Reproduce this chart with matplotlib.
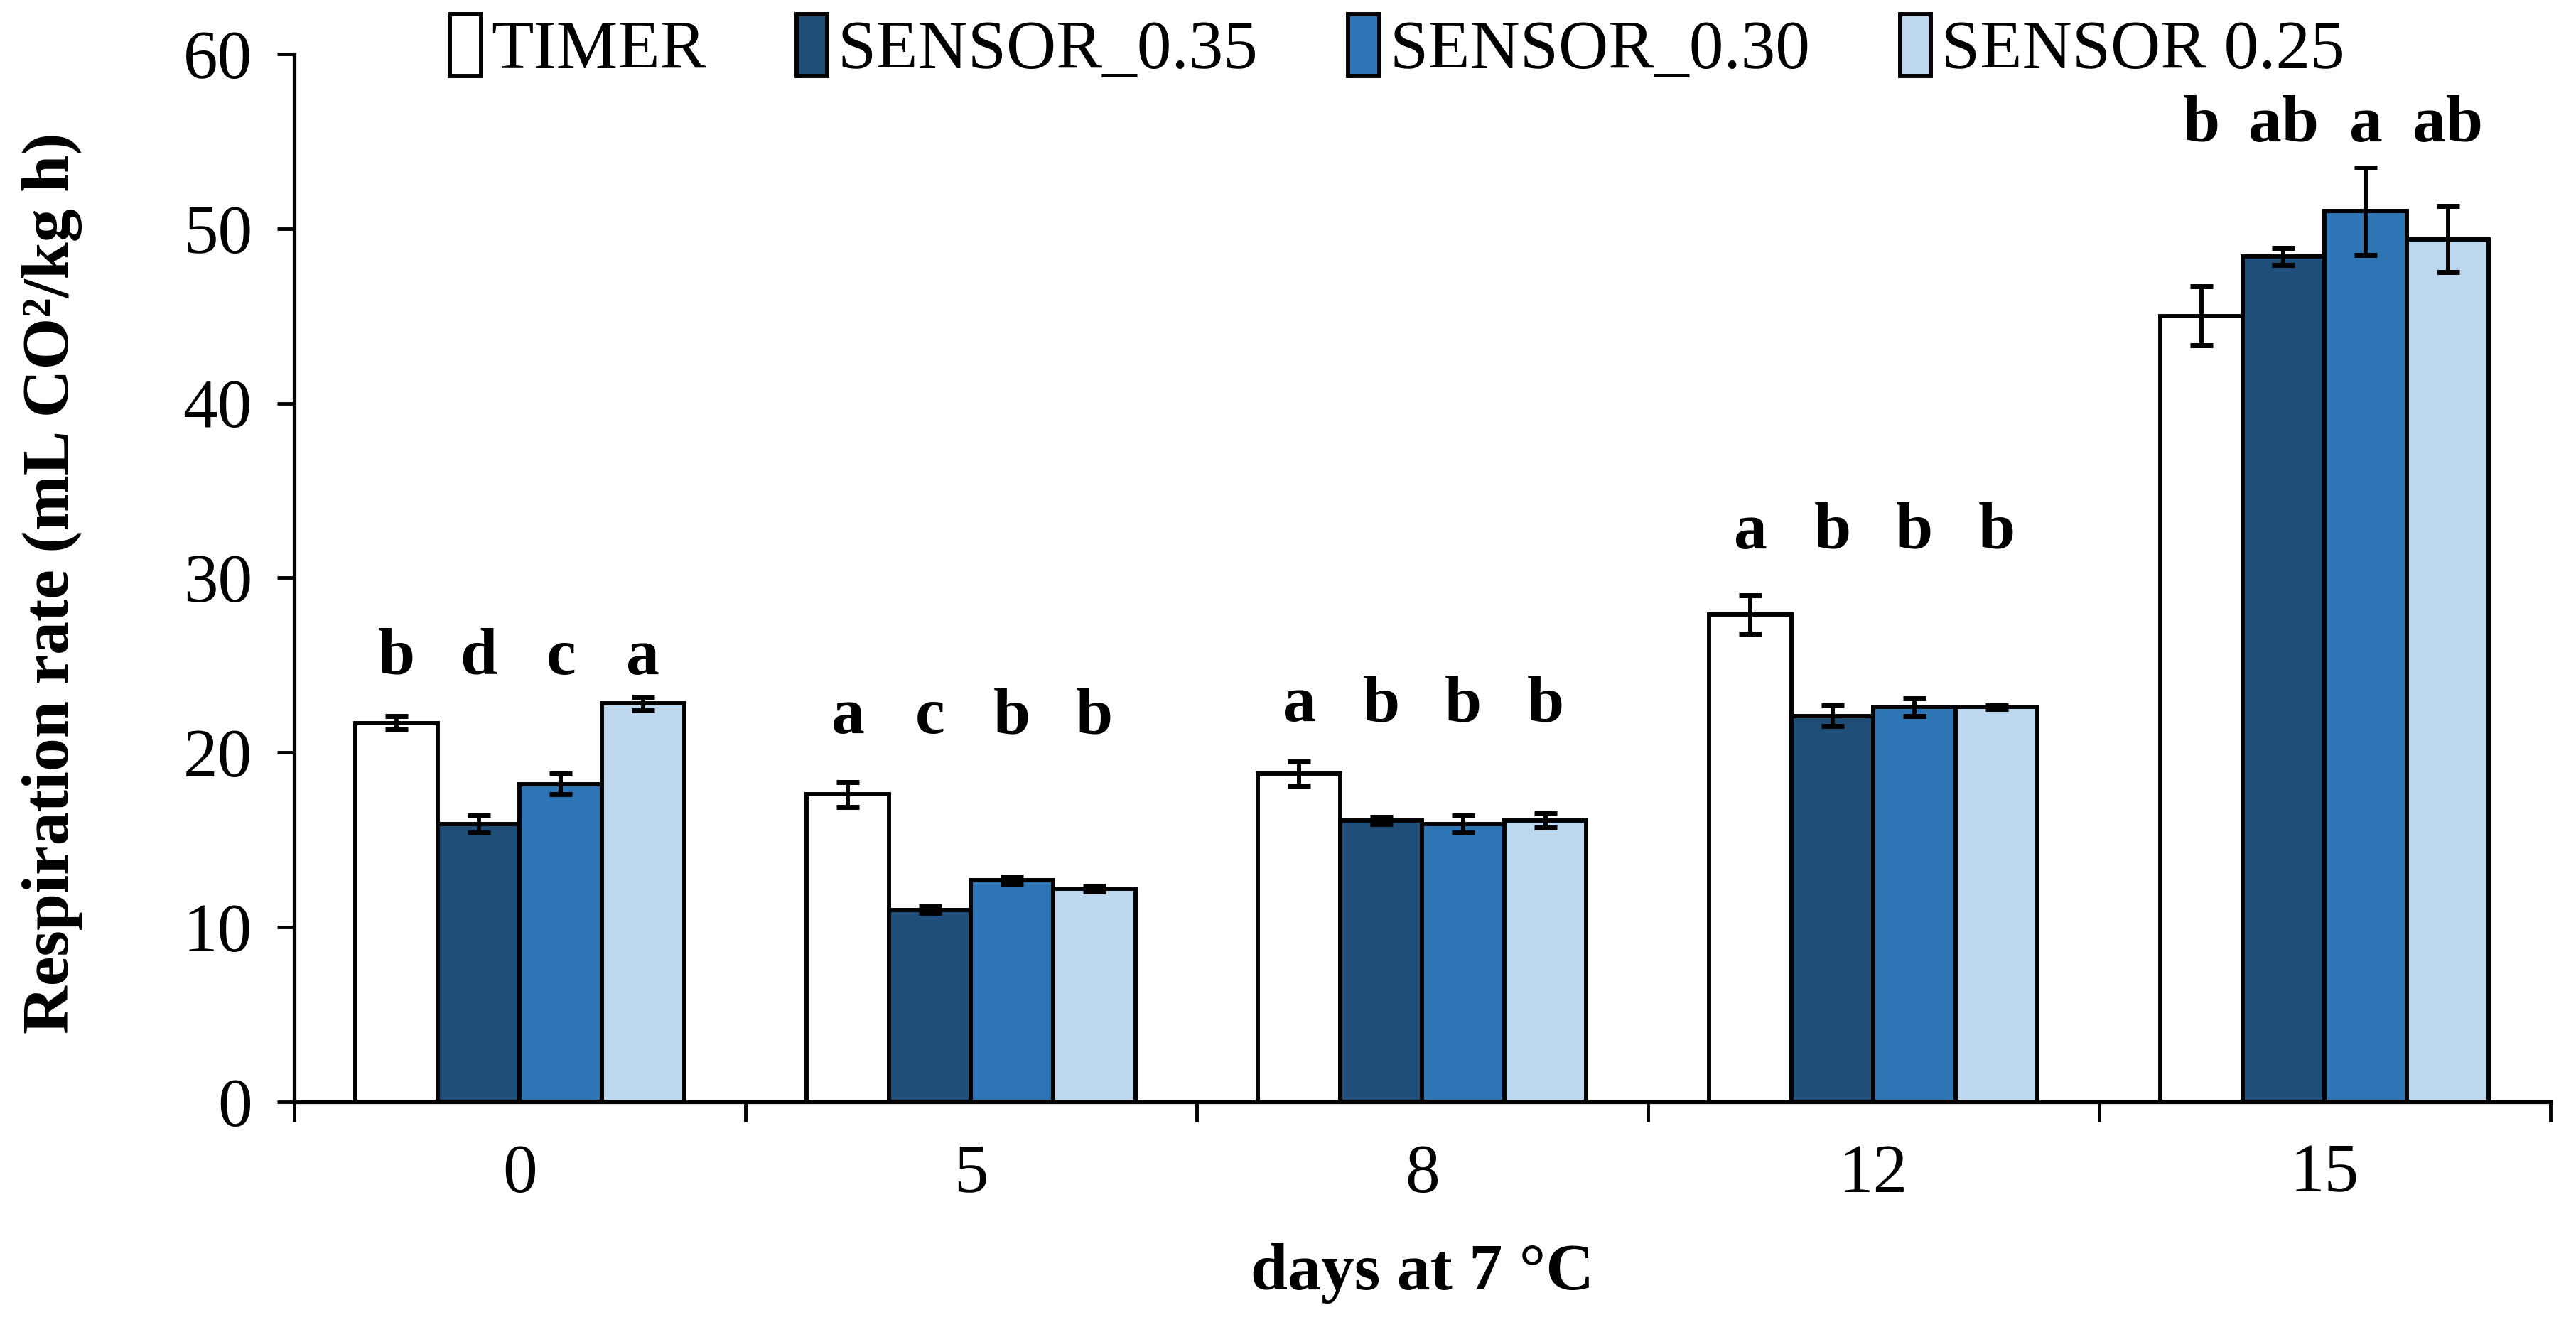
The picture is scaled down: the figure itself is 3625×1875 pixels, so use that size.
# Respiration rate bar chart
import numpy as np
import matplotlib
matplotlib.use("Agg")
import matplotlib.pyplot as plt

# Data
days = ["0", "5", "8", "12", "15"]
series_names = ["TIMER", "SENSOR_0.35", "SENSOR_0.30", "SENSOR 0.25"]

timer = [21.7, 17.6, 18.8, 27.9, 45.0]
sensor_035 = [15.9, 11.0, 16.1, 22.1, 48.4]
sensor_030 = [18.2, 12.7, 15.9, 22.6, 51.0]
sensor_025 = [22.8, 12.2, 16.1, 22.6, 49.4]

timer_err = [0.4, 0.7, 0.7, 1.1, 1.7]
sensor_035_err = [0.5, 0.2, 0.2, 0.6, 0.5]
sensor_030_err = [0.6, 0.2, 0.5, 0.5, 2.5]
sensor_025_err = [0.4, 0.15, 0.4, 0.1, 1.9]

letters = [["b", "d", "c", "a"],
           ["a", "c", "b", "b"],
           ["a", "b", "b", "b"],
           ["a", "b", "b", "b"],
           ["b", "ab", "a", "ab"]]
letter_y = [24.5, 21.1, 21.8, 31.7, 55.0]   # baseline of the significance letters

values = [timer, sensor_035, sensor_030, sensor_025]
errors = [timer_err, sensor_035_err, sensor_030_err, sensor_025_err]
colors = ["#FFFFFF", "#1F4E79", "#2E75B6", "#BDD7EE"]

plt.rcParams["font.family"] = ["Liberation Serif", "DejaVu Serif"]

fig = plt.figure(figsize=(14.5, 7.5), dpi=250)
ax = fig.add_axes([0.1142, 0.1728, 0.8758, 0.7867])

x = np.arange(len(days))
width = 0.182

for i in range(4):
    pos = x + (i - 1.5) * width
    ax.bar(pos, values[i], width, color=colors[i], edgecolor="black",
           linewidth=1.7, label=series_names[i], zorder=2)
    ax.errorbar(pos, values[i], yerr=errors[i], fmt="none", ecolor="black",
                elinewidth=1.7, capsize=4.6, capthick=2.0, zorder=3)
    for j in range(len(days)):
        ax.text(pos[j], letter_y[j], letters[j][i], ha="center", va="baseline",
                fontsize=27, fontweight="bold")

ax.set_xlim(-0.5, 4.5)
ax.set_ylim(0, 60)
ax.set_yticks(np.arange(0, 61, 10))
ax.set_xticks(x)
ax.set_xticklabels(days)
ax.set_xticks(np.arange(-0.5, 4.6, 1), minor=True)
ax.tick_params(axis="x", which="major", length=0, pad=17, labelsize=28)
ax.tick_params(axis="x", which="minor", length=8, width=1.4, direction="out")
ax.tick_params(axis="y", length=7, width=1.4, direction="out", labelsize=28, pad=10)

ax.spines["top"].set_visible(False)
ax.spines["right"].set_visible(False)
ax.spines["left"].set_linewidth(1.5)
ax.spines["bottom"].set_linewidth(1.5)

ax.set_xlabel("days at 7 °C", fontsize=27, fontweight="bold")
ax.set_ylabel("Respiration rate (mL CO²/kg h)", fontsize=27, fontweight="bold")
ax.xaxis.set_label_coords(0.5, -0.135)
ax.yaxis.set_label_coords(-0.094, 0.495)

ax.legend(loc="center", bbox_to_anchor=(0.489, 1.005), ncol=4, frameon=False,
          fontsize=28, handlelength=0.45, handleheight=1.0, handletextpad=0.15,
          columnspacing=1.3, borderaxespad=0)

plt.savefig("out.png", dpi=250)
